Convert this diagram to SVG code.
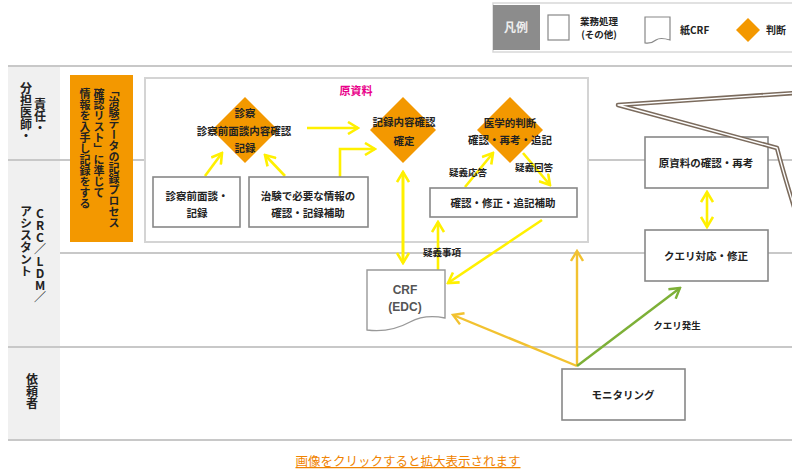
<svg xmlns="http://www.w3.org/2000/svg" width="792" height="472" viewBox="0 0 792 472">
<style>
text{font-family:"Noto Sans CJK JP","Noto Sans",sans-serif;font-weight:bold;fill:#222;}
.t{font-size:10.5px;text-anchor:middle;}
.sm{font-size:9.5px;text-anchor:middle;}
.v{writing-mode:vertical-rl;text-orientation:upright;font-size:12px;}
.box{fill:#fff;stroke:#888;stroke-width:1.6;}
.dia{fill:#f39800;}
.lane{stroke:#c8c8c8;stroke-width:2;fill:none;}
.ya{stroke:#fff000;stroke-width:2.6;fill:none;}
.ga{stroke:#f2c230;stroke-width:2.4;fill:none;}
.gr{stroke:#7db037;stroke-width:2.4;fill:none;}
</style>
<defs>
<marker id="my" viewBox="0 0 14 14" refX="12" refY="7" markerWidth="14" markerHeight="14" markerUnits="userSpaceOnUse" orient="auto-start-reverse"><path d="M2,1 L12,7 L2,13" fill="none" stroke="#fff000" stroke-width="2.6"/></marker>
<marker id="mg" viewBox="0 0 14 14" refX="12" refY="7" markerWidth="14" markerHeight="14" markerUnits="userSpaceOnUse" orient="auto"><path d="M2,1 L12,7 L2,13" fill="none" stroke="#f2c230" stroke-width="2.4"/></marker>
<marker id="mgr" viewBox="0 0 14 14" refX="12" refY="7" markerWidth="14" markerHeight="14" markerUnits="userSpaceOnUse" orient="auto"><path d="M2,1 L12,7 L2,13" fill="none" stroke="#7db037" stroke-width="2.4"/></marker>
</defs>
<rect width="792" height="472" fill="#fff"/>

<g id="legend">
<rect x="493" y="3" width="305" height="49" fill="#fff" stroke="#d8d8d8" stroke-width="1.5"/>
<rect x="493" y="5" width="47" height="45" fill="#8c8c8c"/>
<text x="516" y="32" style="font-size:12px;text-anchor:middle;fill:#eee">凡例</text>
<rect x="548" y="15" width="21" height="25" fill="#fff" stroke="#888" stroke-width="1.2"/>
<text x="599" y="25" class="sm">業務処理</text>
<text x="599" y="38" class="sm">(その他)</text>
<path d="M645,17 H670 V40 Q660,37 656,40 Q651,44 645,43 Z" fill="#fff" stroke="#888" stroke-width="1.2"/>
<text x="680" y="34" style="font-size:10px">紙CRF</text>
<path d="M748,18 L760,30 L748,42 L736,30 Z" class="dia"/>
<text x="766" y="34" style="font-size:10px">判断</text>
</g>

<g id="lanes">
<rect x="8" y="67" width="52" height="373" fill="#f0f0f0"/>
<line x1="8" y1="66" x2="792" y2="66" class="lane"/>
<line x1="8" y1="160" x2="792" y2="160" class="lane"/>
<line x1="60" y1="253" x2="792" y2="253" class="lane"/>
<line x1="8" y1="347" x2="792" y2="347" class="lane"/>
<line x1="8" y1="440" x2="792" y2="440" class="lane"/>
<text x="40" y="98" class="v">責任・</text>
<text x="26" y="82" class="v">分担医師・</text>
<text x="40" y="207" class="v">CRC／LDM／</text>
<text x="26" y="205" class="v">アシスタント</text>
<text x="32" y="373" class="v">依頼者</text>
</g>

<g id="note">
<rect x="70" y="75" width="63" height="167" fill="#f39800"/>
<text x="114" y="85" class="v" style="font-size:11px">「治験データの記録プロセス</text>
<text x="99" y="88" class="v" style="font-size:11px">確認リスト」に準じて</text>
<text x="85" y="88" class="v" style="font-size:11px">情報を入手し記録をする</text>
</g>

<g id="source">
<rect x="145" y="78" width="443" height="164" fill="#fff" stroke="#d4d4d4" stroke-width="2"/>
<text x="356" y="95" style="font-size:11px;text-anchor:middle;fill:#e9008a">原資料</text>
</g>

<g id="connectors">
<line x1="205" y1="176" x2="222" y2="153" class="ya" marker-end="url(#my)"/>
<line x1="285" y1="176" x2="265" y2="155" class="ya" marker-end="url(#my)"/>
<line x1="307" y1="128" x2="358" y2="128" class="ya" marker-end="url(#my)"/>
<polyline points="340,177 340,149 375,149" class="ya" marker-end="url(#my)"/>
<line x1="403" y1="172" x2="403" y2="263" class="ya" style="stroke-width:3" marker-start="url(#my)" marker-end="url(#my)"/>
<line x1="465" y1="187" x2="493" y2="153" class="ya" marker-end="url(#my)"/>
<line x1="523" y1="153" x2="550" y2="185" class="ya" marker-end="url(#my)"/>
<line x1="438" y1="270" x2="438" y2="222" class="ya" marker-end="url(#my)"/>
<line x1="542" y1="220" x2="448" y2="283" class="ya" marker-end="url(#my)"/>
<line x1="707" y1="192" x2="707" y2="227" class="ya" marker-start="url(#my)" marker-end="url(#my)"/>
<line x1="577" y1="366" x2="453" y2="315" class="ga" marker-end="url(#mg)"/>
<line x1="577" y1="366" x2="577" y2="251" class="ga" marker-end="url(#mg)"/>
<line x1="577" y1="366" x2="680" y2="288" class="gr" marker-end="url(#mgr)"/>
<text x="468" y="176" class="sm">疑義応答</text>
<text x="534" y="171" class="sm">疑義回答</text>
<text x="442" y="256" class="sm">疑義事項</text>
<text x="677" y="329" class="sm">クエリ発生</text>
</g>

<g id="d1">
<path d="M245,97 L278,130 L245,163 L212,130 Z" class="dia"/>
<text x="245" y="117" class="t">診察</text>
<text x="244" y="135" class="t">診察前面談内容確認</text>
<text x="245" y="152" class="t">記録</text>
</g>
<g id="b1">
<rect x="153" y="177" width="87" height="50" class="box"/>
<text x="197" y="200" class="t">診察前面談・</text>
<text x="197" y="217" class="t">記録</text>
</g>
<g id="b2">
<rect x="249" y="177" width="119" height="50" class="box"/>
<text x="308" y="200" class="t">治験で必要な情報の</text>
<text x="308" y="217" class="t">確認・記録補助</text>
</g>
<g id="d2">
<path d="M403,97 L436,130 L403,163 L370,130 Z" class="dia"/>
<text x="404" y="126" class="t">記録内容確認</text>
<text x="404" y="145" class="t">確定</text>
</g>
<g id="d3">
<path d="M510,97 L543,130 L510,163 L477,130 Z" class="dia"/>
<text x="510" y="127" class="t">医学的判断</text>
<text x="510" y="144" class="t">確認・再考・追記</text>
</g>
<g id="b3">
<rect x="430" y="188" width="147" height="29" class="box"/>
<text x="503" y="207" class="t">確認・修正・追記補助</text>
</g>
<g id="crf">
<path d="M367,270 H445 V318 Q425,314 410,322 Q390,333 367,330 Z" fill="#fff" stroke="#999" stroke-width="1.4"/>
<text x="405" y="294" style="font-family:'Liberation Sans',Arial,sans-serif;font-size:12px;text-anchor:middle;fill:#555">CRF</text>
<text x="405" y="311" style="font-family:'Liberation Sans',Arial,sans-serif;font-size:12px;text-anchor:middle;fill:#555">(EDC)</text>
</g>
<g id="b4">
<rect x="645" y="137" width="123" height="51" class="box"/>
<text x="706" y="167" class="t">原資料の確認・再考</text>
</g>
<g id="b5">
<rect x="645" y="230" width="123" height="51" class="box"/>
<text x="706" y="260" class="t">クエリ対応・修正</text>
</g>
<g id="b6">
<rect x="562" y="369" width="123" height="51" class="box"/>
<text x="623" y="399" class="t">モニタリング</text>
</g>

<g id="callout">
<path d="M795,93 L618,105 L777,148 Q784,175 795,210" fill="none" stroke="#7b6b5d" stroke-width="4.5" stroke-linejoin="round"/>
<path d="M795,93 L618,105 L777,148 Q784,175 795,210" fill="none" stroke="#fff" stroke-width="1.3" stroke-linejoin="round"/>
</g>

<g id="link">
<text x="408" y="466" style="font-size:12.5px;font-weight:normal;text-anchor:middle;fill:#f08300;text-decoration:underline">画像をクリックすると拡大表示されます</text>
</g>
</svg>
